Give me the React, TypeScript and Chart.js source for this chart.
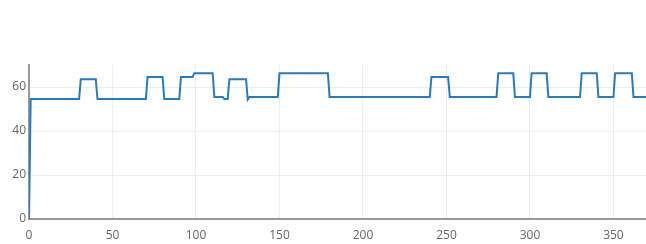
import React, { useEffect, useRef } from "react";
import { Chart, registerables } from "chart.js";

Chart.register(...registerables);

// Breakpoints of the step-like series (x = day index, y = value)
const xValues = [0, 1, 30, 31, 40, 41, 70, 71, 80, 81, 90, 91, 98, 99, 110, 111, 116, 117, 119, 120, 130, 131, 132, 149, 150, 179, 180, 240, 241, 251, 252, 280, 281, 290, 291, 300, 301, 310, 311, 330, 331, 340, 341, 350, 351, 361, 362, 370];
const yValues = [0, 54.5, 54.5, 63.5, 63.5, 54.5, 54.5, 64.5, 64.5, 54.5, 54.5, 64.5, 64.5, 66.3, 66.3, 55.5, 55.5, 54.5, 54.5, 63.5, 63.5, 54.3, 55.5, 55.5, 66.3, 66.3, 55.5, 55.5, 64.5, 64.5, 55.5, 55.5, 66.3, 66.3, 55.5, 55.5, 66.3, 66.3, 55.5, 55.5, 66.3, 66.3, 55.5, 55.5, 66.3, 66.3, 55.5, 55.5];
const xTicks = [0, 50, 100, 150, 200, 250, 300, 350];
const yTicks = [0, 20, 40, 60];

export default function App() {
  const ref = useRef<HTMLCanvasElement>(null);
  useEffect(() => {
    document.body.style.margin = "0";
    const ctx = ref.current!;
    const font = { family: "'Open Sans', verdana, arial, sans-serif", size: 12 };
    const chart = new Chart(ctx, {
      type: "line",
      data: {
        datasets: [
          {
            data: xValues.map((x, i) => ({ x, y: yValues[i] })),
            borderColor: "#2b7bba",
            borderWidth: 2,
            pointRadius: 0,
            fill: false,
            tension: 0,
          },
        ],
      },
      options: {
        animation: false,
        responsive: false,
        maintainAspectRatio: false,
        layout: { padding: { top: 65, right: 0, left: 0, bottom: 0 } },
        plugins: { legend: { display: false }, tooltip: { enabled: false } },
        scales: {
          x: {
            type: "linear",
            min: 0,
            max: 369.5,
            afterBuildTicks: (s: any) => {
              s.ticks = xTicks.map((v) => ({ value: v }));
            },
            afterFit: (s: any) => {
              s.height = 25;
            },
            grid: { color: "#eee", drawTicks: false },
            border: { color: "#999", width: 2 },
            ticks: { color: "#666", font, padding: 9, maxRotation: 0 },
          },
          y: {
            min: 0,
            max: 70,
            afterBuildTicks: (s: any) => {
              s.ticks = yTicks.map((v) => ({ value: v }));
            },
            afterFit: (s: any) => {
              s.width = 29;
            },
            grid: { color: "#eee", drawTicks: false },
            border: { color: "#999", width: 2 },
            ticks: { color: "#666", font, padding: 3 },
          },
        },
      },
    });
    return () => chart.destroy();
  }, []);
  return <canvas ref={ref} width={646} height={244} style={{ display: "block" }} />;
}
